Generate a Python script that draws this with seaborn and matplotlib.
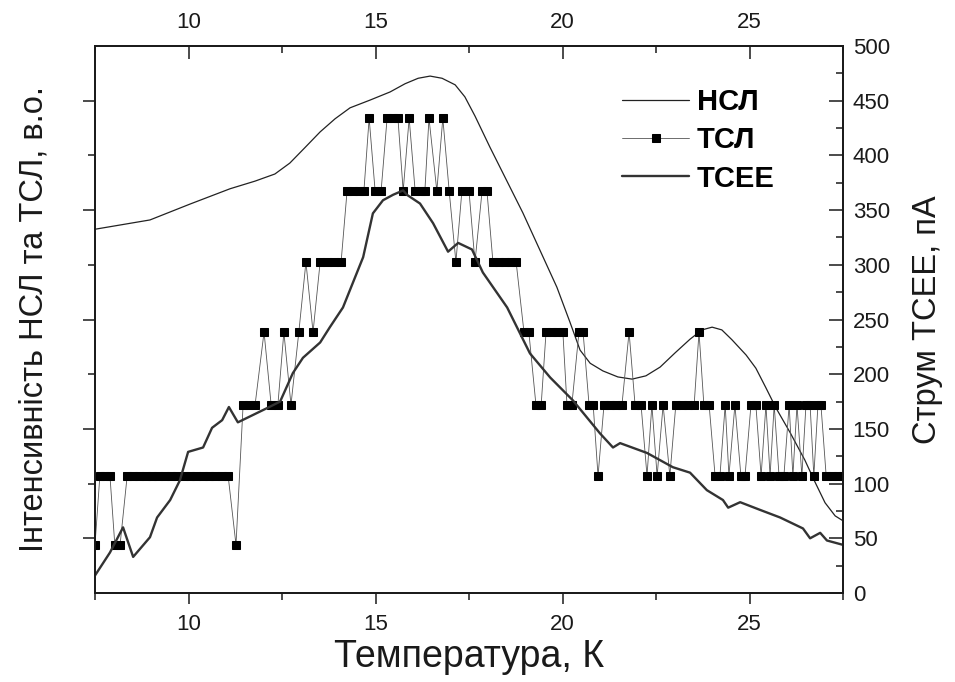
import matplotlib
matplotlib.use("Agg")
import matplotlib.pyplot as plt
from matplotlib.ticker import MultipleLocator, FixedLocator, NullFormatter
import seaborn as sns
import pandas as pd

# ---------------- data ----------------
# НСЛ (left axis, arbitrary units)
nsl_T = [7.50, 8.97, 10.04, 11.11, 11.78, 12.31, 12.71, 13.11, 13.52, 13.92, 14.32,
         14.85, 15.39, 15.79, 16.14, 16.46, 16.78, 17.13, 17.39, 17.66, 18.06, 18.94,
         19.85, 20.20, 20.47, 20.74, 21.08, 21.48, 21.86, 22.23, 22.61, 23.01, 23.41,
         23.73, 24.00, 24.26, 24.53, 24.91, 25.17, 25.44, 25.71, 26.08, 26.48, 26.75,
         27.02, 27.29, 27.50]
nsl_val = [6.65, 6.82, 7.11, 7.39, 7.53, 7.66, 7.86, 8.14, 8.43, 8.67, 8.87,
           9.01, 9.16, 9.31, 9.41, 9.45, 9.41, 9.29, 9.07, 8.72, 8.15, 6.95,
           5.59, 4.95, 4.44, 4.20, 4.06, 3.95, 3.91, 3.97, 4.13, 4.39, 4.64,
           4.81, 4.86, 4.81, 4.63, 4.35, 4.11, 3.75, 3.38, 2.94, 2.43, 2.03,
           1.65, 1.41, 1.32]

# ТСЛ (left axis, arbitrary units)
tsl_T = [7.50, 7.63, 7.77, 7.90, 8.03, 8.17,
         8.36, 8.52, 8.68, 8.86, 9.02, 9.18, 9.37, 9.53, 9.69, 9.88, 10.04, 10.20,
         10.39, 10.55, 10.71, 10.90, 11.06,
         11.27, 11.46, 11.62, 11.78, 12.02, 12.21, 12.39, 12.55, 12.74, 12.95, 13.14,
         13.33, 13.52, 13.70, 13.89, 14.08,
         14.24, 14.40, 14.56, 14.69, 14.83, 14.99, 15.15, 15.31, 15.47, 15.60, 15.74,
         15.90, 16.06, 16.22, 16.32, 16.43, 16.64, 16.80, 16.97,
         17.15, 17.31, 17.50, 17.66, 17.85, 17.98, 18.14, 18.30, 18.46, 18.62, 18.76,
         18.97, 19.10, 19.29, 19.43, 19.56, 19.72, 19.85, 20.01, 20.12, 20.25, 20.44,
         20.55, 20.71, 20.82,
         20.95, 21.11, 21.27, 21.43, 21.59, 21.78, 21.94, 22.10, 22.26, 22.39, 22.53,
         22.69, 22.87, 23.03, 23.20, 23.36, 23.52, 23.65, 23.78, 23.92,
         24.08, 24.21, 24.35, 24.45, 24.61, 24.77, 24.88, 25.04, 25.17, 25.31, 25.44,
         25.55, 25.66, 25.79, 25.92, 26.06, 26.16, 26.27, 26.40, 26.51, 26.62, 26.72,
         26.83, 26.91, 27.05, 27.21, 27.37, 27.50]
tsl_val = [0.88, 2.14, 2.14, 2.14, 0.88, 0.88,
           2.14, 2.14, 2.14, 2.14, 2.14, 2.14, 2.14, 2.14, 2.14, 2.14, 2.14, 2.14,
           2.14, 2.14, 2.14, 2.14, 2.14,
           0.88, 3.44, 3.44, 3.44, 4.77, 3.44, 3.44, 4.77, 3.44, 4.77, 6.05,
           4.77, 6.05, 6.05, 6.05, 6.05,
           7.35, 7.35, 7.35, 7.35, 8.68, 7.35, 7.35, 8.68, 8.68, 8.68, 7.35,
           8.68, 7.35, 7.35, 7.35, 8.68, 7.35, 8.68, 7.35,
           6.05, 7.35, 7.35, 6.05, 7.35, 7.35, 6.05, 6.05, 6.05, 6.05, 6.05,
           4.77, 4.77, 3.44, 3.44, 4.77, 4.77, 4.77, 4.77, 3.44, 3.44, 4.77,
           4.77, 3.44, 3.44,
           2.14, 3.44, 3.44, 3.44, 3.44, 4.77, 3.44, 3.44, 2.14, 3.44, 2.14,
           3.44, 2.14, 3.44, 3.44, 3.44, 3.44, 4.77, 3.44, 3.44,
           2.14, 2.14, 3.44, 2.14, 3.44, 2.14, 2.14, 3.44, 3.44, 2.14, 3.44,
           2.14, 3.44, 2.14, 2.14, 3.44, 2.14, 3.44, 2.14, 3.44, 3.44, 2.14,
           3.44, 3.44, 2.14, 2.14, 2.14, 2.14]

# ТСЕЕ (right axis, pA)
tcee_T = [7.50, 7.90, 8.25, 8.52, 8.97, 9.16, 9.51, 9.77, 9.99, 10.39, 10.63, 10.90,
          11.08, 11.32, 11.56, 12.10, 12.45, 12.79, 13.06, 13.52, 13.78, 14.13, 14.67,
          14.93, 15.20, 15.47, 15.74, 15.84, 16.19, 16.54, 16.94, 17.21, 17.58, 17.87,
          18.52, 19.13, 19.67, 20.28, 21.00, 21.35, 21.54, 22.26, 22.95, 23.41, 23.86,
          24.29, 24.43, 24.75, 25.28, 25.82, 26.43, 26.62, 26.89, 27.07, 27.50]
tcee_val = [16, 37, 60, 33, 51, 69, 85, 103, 129, 133, 151, 158,
            170, 156, 160, 169, 175, 201, 215, 229, 243, 261, 307,
            347, 359, 364, 368, 364, 356, 338, 312, 320, 314, 293,
            261, 219, 197, 176, 146, 133, 137, 128, 115, 110, 94,
            85, 78, 83, 76, 69, 59, 50, 55, 48, 44]

labels = ["НСЛ", "ТСЛ", "ТСЕЕ"]
xticks = [10, 15, 20, 25]
right_ticks = [0, 50, 100, 150, 200, 250, 300, 350, 400, 450, 500]

nsl_df = pd.DataFrame({"T": nsl_T, "v": nsl_val})
tsl_df = pd.DataFrame({"T": tsl_T, "v": tsl_val})
tcee_df = pd.DataFrame({"T": tcee_T, "v": tcee_val})

# ---------------- style ----------------
sns.set_theme(style="ticks")
plt.rcParams["font.family"] = ["Liberation Sans", "DejaVu Sans"]
plt.rcParams["axes.linewidth"] = 1.1

fig = plt.figure(figsize=(9.55, 6.82), dpi=100)
ax = fig.add_axes([95 / 955, 1 - 593 / 682, (843 - 95) / 955, (593 - 46) / 682])

sns.lineplot(data=nsl_df, x="T", y="v", ax=ax, color="#222222", lw=0.9,
             estimator=None, sort=False, label=labels[0])
sns.lineplot(data=tsl_df, x="T", y="v", ax=ax, color="#555555", lw=0.6,
             marker="s", markersize=6, markerfacecolor="black",
             markeredgecolor="black", estimator=None, sort=False, label=labels[1])

ax2 = ax.twinx()
sns.lineplot(data=tcee_df, x="T", y="v", ax=ax2, color="#333333", lw=1.7,
             estimator=None, sort=False, label=labels[2])

ax.set_xlim(7.5, 27.5)
ax.set_ylim(0, 10)
ax2.set_ylim(0, 500)

TC = "#1a1a1a"
# bottom axis
ax.xaxis.set_major_locator(FixedLocator(xticks))
ax.xaxis.set_minor_locator(MultipleLocator(2.5))
ax.tick_params(axis="x", which="major", direction="out", length=8, width=1.1,
               labelsize=16, pad=7, colors=TC)
ax.tick_params(axis="x", which="minor", direction="out", length=5, width=1.1, colors=TC)
# left axis (no labels)
ax.yaxis.set_major_locator(FixedLocator([1, 3, 5, 7, 9]))
ax.yaxis.set_minor_locator(FixedLocator([2, 4, 6, 8]))
ax.yaxis.set_major_formatter(NullFormatter())
ax.tick_params(axis="y", which="major", direction="out", length=9, width=1.1, colors=TC)
ax.tick_params(axis="y", which="minor", direction="out", length=5, width=1.1, colors=TC)

# right axis
ax2.yaxis.set_major_locator(FixedLocator(right_ticks))
ax2.yaxis.set_minor_locator(MultipleLocator(25))
ax2.tick_params(axis="y", which="major", direction="in", length=10, width=1.1,
                labelsize=16, pad=7, colors=TC)
ax2.tick_params(axis="y", which="minor", direction="in", length=5, width=1.1, colors=TC)

# top axis
ax3 = ax.twiny()
ax3.set_xlim(7.5, 27.5)
ax3.xaxis.set_major_locator(FixedLocator(xticks))
ax3.xaxis.set_minor_locator(MultipleLocator(2.5))
ax3.tick_params(axis="x", which="major", direction="in", length=9, width=1.1,
                labelsize=16, pad=9, colors=TC)
ax3.tick_params(axis="x", which="minor", direction="in", length=5, width=1.1, colors=TC)

ax.set_xlabel("Температура, К", fontsize=27, labelpad=3, color=TC)
ax.set_ylabel("Інтенсивність НСЛ та ТСЛ, в.о.", fontsize=23.5, labelpad=20, color=TC)
ax2.set_ylabel("Струм ТСЕЕ, пА", fontsize=23.5, labelpad=16, color=TC)

for a in (ax, ax2, ax3):
    for s in a.spines.values():
        s.set_color(TC)
        s.set_linewidth(1.1)

# legend
h1, l1 = ax.get_legend_handles_labels()
h2, l2 = ax2.get_legend_handles_labels()
if ax2.get_legend():
    ax2.get_legend().remove()
if ax.get_legend():
    ax.get_legend().remove()
leg = ax3.legend(h1 + h2, l1 + l2, loc="upper left",
                 bbox_to_anchor=(596 / 955, 1 - 62 / 682),
                 bbox_transform=fig.transFigure, frameon=False,
                 prop={"weight": "bold", "size": 21}, handlelength=2.3,
                 handletextpad=0.25, labelspacing=0.35)
for t in leg.get_texts():
    t.set_color("black")

fig.savefig("out.png", dpi=100)
